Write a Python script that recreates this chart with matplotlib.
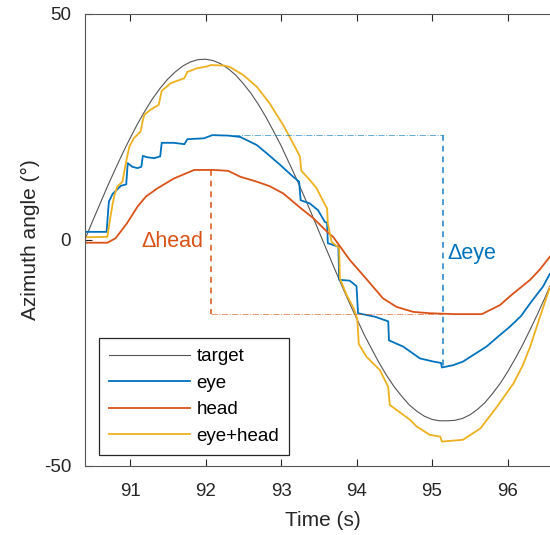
import numpy as np
import matplotlib
matplotlib.use("Agg")
import matplotlib.pyplot as plt

plt.rcParams['font.family'] = ['Liberation Sans', 'DejaVu Sans']
plt.rcParams['axes.unicode_minus'] = False

# target (sinusoid)
t_target = [90.4, 90.5, 90.6, 90.7, 90.8, 90.9, 91.0, 91.1, 91.2, 91.3, 91.4, 91.5,
            91.6, 91.7, 91.8, 91.9, 92.0, 92.1, 92.2, 92.3, 92.4, 92.5, 92.6, 92.7,
            92.8, 92.9, 93.0, 93.1, 93.2, 93.3, 93.4, 93.5, 93.6, 93.7, 93.8, 93.9,
            94.0, 94.1, 94.2, 94.3, 94.4, 94.5, 94.6, 94.7, 94.8, 94.9, 95.0, 95.1,
            95.2, 95.3, 95.4, 95.5, 95.6, 95.7, 95.8, 95.9, 96.0, 96.1, 96.2, 96.3,
            96.4, 96.5, 96.6]
v_target = [0.0, 4.0, 7.9, 11.8, 15.5, 19.1, 22.5, 25.7, 28.6, 31.3, 33.6, 35.6,
            37.2, 38.5, 39.4, 39.9, 40.0, 39.7, 39.0, 37.9, 36.5, 34.6, 32.5, 30.0,
            27.2, 24.1, 20.9, 17.3, 13.7, 9.9, 6.0, 2.0, -2.0, -6.0, -9.9, -13.7,
            -17.3, -20.9, -24.1, -27.2, -30.0, -32.5, -34.6, -36.5, -37.9, -39.0, -39.7, -40.0,
            -40.0, -39.9, -39.5, -38.7, -37.5, -36.0, -34.0, -31.8, -29.2, -26.3, -23.2, -19.8,
            -16.3, -12.6, -8.7]

t_eye = [90.40, 90.69, 90.72, 90.77, 90.88, 90.95, 90.97, 91.03, 91.10, 91.15, 91.17,
         91.23, 91.32, 91.40, 91.42, 91.58, 91.72, 91.76, 91.98, 92.09, 92.30, 92.46,
         92.68, 92.81, 92.99, 93.16, 93.24, 93.26, 93.38, 93.49, 93.58, 93.61, 93.62,
         93.76, 93.77, 93.91, 94.00, 94.02, 94.25, 94.42, 94.43, 94.62, 94.84, 95.02,
         95.12, 95.13, 95.28, 95.41, 95.55, 95.72, 95.88, 96.03, 96.18, 96.30, 96.47, 96.56]
v_eye = [1.8, 1.8, 8.5, 10.2, 12.0, 12.3, 17.0, 16.2, 15.9, 16.2, 18.6,
         18.3, 18.1, 18.5, 21.5, 21.5, 21.2, 22.3, 22.5, 23.2, 23.1, 22.8,
         21.0, 19.2, 16.6, 14.0, 12.9, 8.8, 8.1, 6.6, 4.0, 3.8, -0.7,
         -1.5, -8.8, -9.0, -10.2, -16.2, -17.0, -18.0, -22.2, -23.6, -26.2, -26.9,
         -27.2, -28.2, -27.7, -26.9, -25.4, -23.6, -21.3, -19.2, -16.8, -14.0, -10.3, -7.5]

t_head = [90.40, 90.70, 90.81, 90.96, 91.10, 91.21, 91.36, 91.58, 91.85, 92.11, 92.30,
          92.46, 92.68, 92.85, 93.03, 93.25, 93.43, 93.63, 93.69, 93.91, 94.14, 94.35,
          94.53, 94.75, 94.97, 95.30, 95.66, 95.90, 96.05, 96.30, 96.43, 96.56]
v_head = [-0.6, -0.6, 0.4, 3.7, 7.4, 9.6, 11.4, 13.6, 15.5, 15.5, 15.3,
          14.0, 12.9, 11.9, 10.3, 7.2, 4.8, 1.5, 0.7, -4.4, -8.8, -12.9,
          -14.8, -15.9, -16.2, -16.4, -16.4, -14.4, -12.2, -8.8, -6.5, -3.7]

t_sum = [90.40, 90.70, 90.74, 90.77, 90.79, 90.83, 90.90, 90.94, 90.99, 91.05, 91.14,
         91.17, 91.19, 91.27, 91.38, 91.42, 91.54, 91.72, 91.76, 91.89, 92.02, 92.07,
         92.24, 92.32, 92.50, 92.68, 92.85, 93.03, 93.16, 93.25, 93.27, 93.38, 93.47,
         93.56, 93.61, 93.62, 93.67, 93.77, 93.78, 93.87, 93.96, 94.01, 94.03, 94.13,
         94.31, 94.42, 94.44, 94.58, 94.71, 94.80, 94.97, 95.11, 95.13, 95.41, 95.64,
         95.86, 96.08, 96.20, 96.30, 96.43, 96.56]
v_sum = [0.6, 0.7, 5.0, 8.0, 9.6, 11.8, 12.9, 16.6, 20.6, 22.5, 24.0,
         26.5, 27.7, 28.8, 29.9, 33.0, 34.7, 35.8, 37.2, 38.0, 38.4, 38.7,
         38.6, 38.3, 36.5, 33.9, 30.2, 25.4, 21.4, 18.5, 15.3, 13.3, 11.5,
         8.5, 7.0, 3.7, -0.4, -1.8, -8.5, -12.2, -15.0, -17.5, -23.0, -25.8,
         -28.8, -32.5, -36.5, -38.2, -39.8, -41.3, -43.1, -43.5, -44.6, -44.2, -41.7,
         -36.9, -31.7, -27.8, -23.6, -17.0, -10.5]

labels = ['target', 'eye', 'head', 'eye+head']
colors = ['#555555', '#0072BD', '#D95319', '#EDB120']

# annotation markers (time, level)
eye_peak_t, eye_peak = 92.10, 23.2
eye_min_t, eye_min = 95.15, -28.0
head_peak_t, head_peak = 92.07, 15.5
head_min = -16.4

fig = plt.figure(figsize=(5.5, 5.35), dpi=100)
ax = fig.add_axes([85 / 550, 69 / 535, 475 / 550, 452 / 535])

ax.plot(t_target, v_target, color=colors[0], lw=0.8, label=labels[0])
ax.plot(t_eye, v_eye, color=colors[1], lw=1.3, label=labels[1])
ax.plot(t_head, v_head, color=colors[2], lw=1.3, label=labels[2])
ax.plot(t_sum, v_sum, color=colors[3], lw=1.3, label=labels[3])

# delta eye
ax.plot([eye_peak_t, eye_min_t], [eye_peak, eye_peak], color=colors[1], lw=0.7,
        ls='-.', alpha=0.6)
ax.plot([eye_min_t, eye_min_t], [eye_peak, eye_min], color=colors[1], lw=1.4,
        ls=(0, (3, 2.5)), alpha=0.7)
# delta head
ax.plot([head_peak_t, eye_min_t], [head_min, head_min], color=colors[2], lw=0.7,
        ls='-.', alpha=0.6)
ax.plot([head_peak_t, head_peak_t], [head_peak, head_min], color=colors[2], lw=1.4,
        ls=(0, (3, 2.5)), alpha=0.8)

ax.text(91.97, -0.3, '\u0394head', color=colors[2], fontsize=15.5, ha='right', va='center')
ax.text(95.2, -3.0, '\u0394eye', color=colors[1], fontsize=15.5, ha='left', va='center')

ax.set_xlim(90.404, 96.695)
ax.set_ylim(-50, 50)
ax.set_xticks([91, 92, 93, 94, 95, 96])
ax.set_yticks([-50, 0, 50])
ax.tick_params(direction='in', length=5, width=0.8, colors='#262626',
               labelsize=13.5, top=True)
ax.tick_params(axis='x', pad=12)
ax.tick_params(axis='y', pad=10)
for s in ax.spines.values():
    s.set_color('#555555')
    s.set_linewidth(0.8)

ax.set_xlabel('Time (s)', fontsize=15, color='#262626', labelpad=8)
ax.set_ylabel('Azimuth angle (\u00b0)', fontsize=15, color='#262626', labelpad=3)

leg = ax.legend(loc='lower left', bbox_to_anchor=(0.029, 0.024), borderaxespad=0,
                fontsize=13.5, handlelength=4.3, handletextpad=0.35, labelspacing=0.5,
                fancybox=False, framealpha=1, borderpad=0.55)
leg.get_frame().set_edgecolor('#262626')
leg.get_frame().set_linewidth(0.9)

fig.savefig('out.png', dpi=100)
